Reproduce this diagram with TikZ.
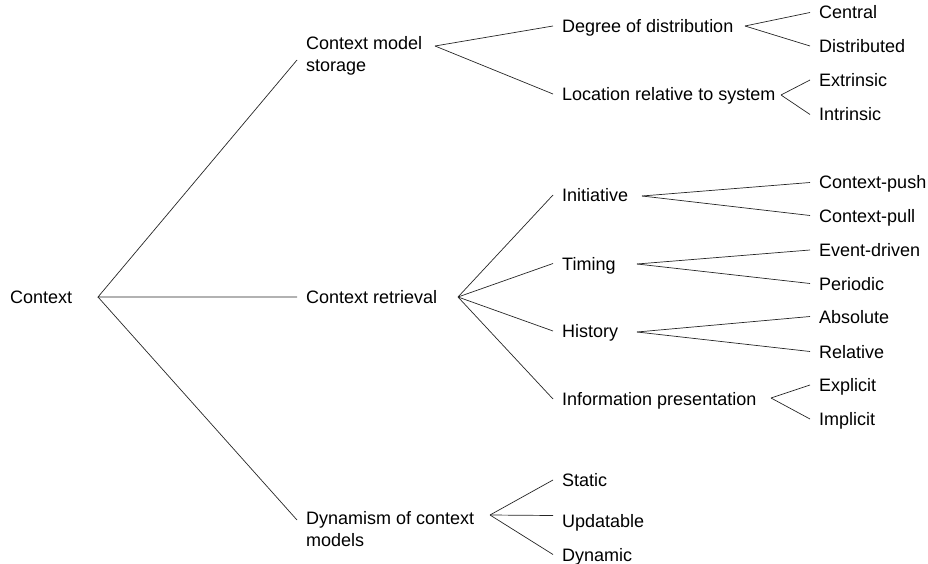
\documentclass[tikz,border=0pt]{standalone}
\usepackage{fontspec}
\setmainfont{Liberation Sans}

\tikzset{
  lbl/.style={anchor=west, inner xsep=9pt, inner ysep=0pt,
    text height=13pt, text depth=0pt, font=\fontsize{18}{22}\selectfont},
  lbltwo/.style={lbl, align=left, text height=, text depth=},
  branch/.style={line width=0.7pt, black!85},
}

\begin{document}
\begin{tikzpicture}[x=1pt, y=-1pt]
\useasboundingbox (0,0) rectangle (928,564);
% root and first level
\node[lbl] (ctx) at (1,297) {Context};
\node[lbltwo] (cms) at (297,56) {Context model\\storage};
\node[lbl] (crt) at (297,297) {Context retrieval};
\node[lbltwo] (dyn) at (297,529) {Dynamism of context\\models};
% second level
\node[lbl] (deg) at (553,26) {Degree of distribution};
\node[lbl] (loc) at (553,94) {Location relative to system};
\node[lbl] (ini) at (553,195) {Initiative};
\node[lbl] (tim) at (553,263.5) {Timing};
\node[lbl] (his) at (553,331) {History};
\node[lbl] (inf) at (553,399) {Information presentation};
\node[lbl] (sta) at (553,480) {Static};
\node[lbl] (upd) at (553,520.5) {Updatable};
\node[lbl] (dym) at (553,554.5) {Dynamic};
% third level
\node[lbl] (cen) at (810,12.5) {Central};
\node[lbl] (dis) at (810,46) {Distributed};
\node[lbl] (ext) at (810,80) {Extrinsic};
\node[lbl] (int) at (810,114.5) {Intrinsic};
\node[lbl] (psh) at (810,182.5) {Context-push};
\node[lbl] (pul) at (810,215.5) {Context-pull};
\node[lbl] (evt) at (810,250) {Event-driven};
\node[lbl] (per) at (810,283.5) {Periodic};
\node[lbl] (abs) at (810,316.5) {Absolute};
\node[lbl] (rel) at (810,351.5) {Relative};
\node[lbl] (exp) at (810,385) {Explicit};
\node[lbl] (imp) at (810,419) {Implicit};

% fork points
\coordinate (f-ctx) at (98,297);
\coordinate (f-cms) at (435,46);
\coordinate (f-crt) at (458,297);
\coordinate (f-dyn) at (490,515);
\coordinate (f-deg) at (745,26);
\coordinate (f-loc) at (781,95);
\coordinate (f-ini) at (642,196);
\coordinate (f-tim) at (637,264);
\coordinate (f-his) at (637,332);
\coordinate (f-inf) at (771,398);

% branches
\draw[branch] ([yshift=-4pt]cms.west) -- (f-ctx) -- (crt.west);
\draw[branch] (f-ctx) -- ([yshift=9pt]dyn.west);
\foreach \a/\b in {cms/deg, cms/loc, crt/ini, crt/tim, crt/his, crt/inf,
                   dyn/sta, dyn/dym, deg/cen, deg/dis, loc/ext, loc/int,
                   ini/psh, ini/pul, tim/evt, tim/per, his/abs, his/rel,
                   inf/exp, inf/imp}
  \draw[branch] (f-\a) -- (\b.west);
\draw[branch] (f-dyn) -- ([yshift=5pt]upd.west);
\end{tikzpicture}
\end{document}
